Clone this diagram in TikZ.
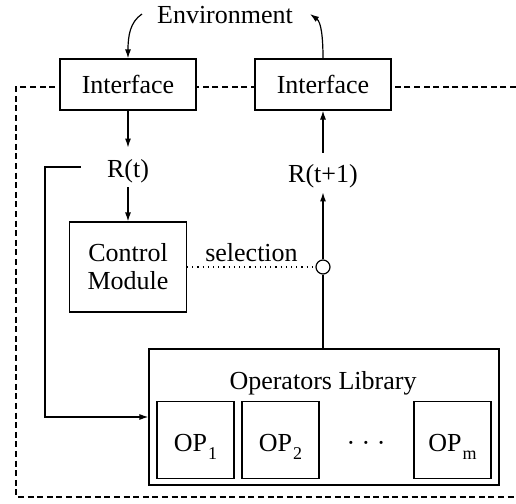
\documentclass[tikz,border=0pt]{standalone}
\usepackage{fontspec}
\setmainfont{Liberation Serif}
\usetikzlibrary{arrows.meta}
\newcommand{\opsub}[1]{\hspace{0.6pt}\raisebox{-4.5pt}{\fontsize{9}{9}\selectfont #1}}
\begin{document}
\begin{tikzpicture}[x=0.5pt,y=-0.5pt,
  every node/.style={font=\fontsize{13}{14}\selectfont},
  lw/.style={line width=0.6pt},
  box/.style={draw,lw,fill=white,inner sep=0pt},
  arr/.style={lw,-{Latex[length=4.5pt,width=3pt]}},
  rlab/.style={inner sep=0pt,anchor=base,text height=14.5pt,text depth=5pt},
  txt/.style={anchor=base,inner sep=0pt},
  opbox/.style={box,minimum width=38.5pt,minimum height=38.5pt},
]
\useasboundingbox (0,0) rectangle (516,504);
\draw[lw,dash pattern=on 3pt off 1.8pt] (516,87) -- (16,87) -- (16,497) -- (516,497);

\node[txt] (env) at (225,23) {Environment};
\node[box,minimum width=68pt,minimum height=25.5pt] (if1) at (128,84.5) {Interface};
\node[box,minimum width=68pt,minimum height=25.5pt] (if2) at (323,84.5) {Interface};
\coordinate (e1) at (142,14);
\coordinate (e2) at (310,14);
\draw[arr] (e1) .. controls (130,22) and (128,36) .. (if1.north);
\draw[arr] (if2.north) .. controls (323,36) and (321,22) .. (e2);

\node[rlab] (rt) at (128,177) {R(t)};
\draw[arr] (if1.south) -- (rt.north);
\node[box,align=center,minimum width=58.5pt,minimum height=45pt] (cm) at (128,267) {Control\\Module};
\draw[arr] (rt.south) -- (cm.north);

\node[circle,draw,lw,fill=white,minimum size=7pt,inner sep=0pt] (sw) at (323,267) {};
\draw[lw,dotted] (cm.east) -- (sw.west);
\node[txt] (sel) at (251.5,261) {selection};

\node[rlab] (rt1) at (323,182) {R(t+1)};
\draw[arr] (sw.north) -- (rt1.south);
\draw[arr] (rt1.north) -- (if2.south);

\node[box,minimum width=175pt,minimum height=68pt] (lib) at (324,417) {};
\node[txt] (libl) at (323,389) {Operators Library};
\draw[lw] (lib.north -| sw) -- (sw.south);

\node[opbox] (op1) at (195.5,440) {};
\node[opbox] (op2) at (280.5,440) {};
\node[opbox] (opm) at (452.5,440) {};
\node[txt] (op1t) at (195.5,451) {OP\opsub{1}};
\node[txt] (op2t) at (280.5,451) {OP\opsub{2}};
\node[txt] (opmt) at (452.5,451) {OP\opsub{m}};
\node[txt] (dots) at (366,451) {· · ·};

\coordinate (fb) at (81,167);
\coordinate (fbc) at (45,167);
\draw[arr] (fb) -- (fbc) |- (lib.west);
\end{tikzpicture}
\end{document}
